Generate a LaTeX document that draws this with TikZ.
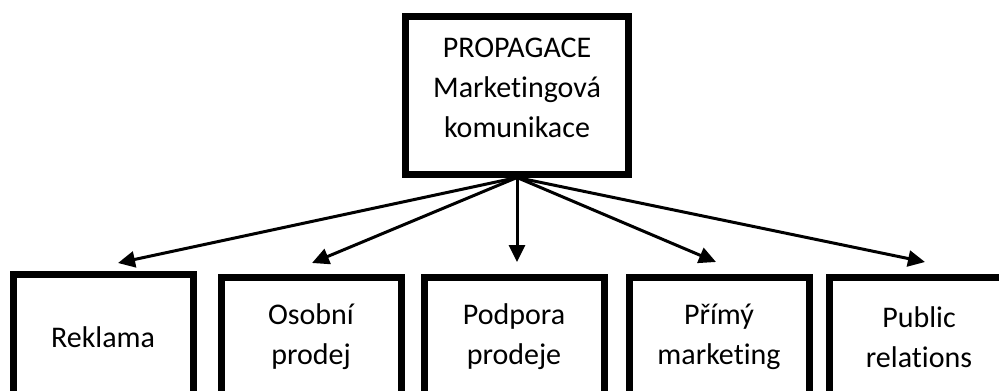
\documentclass[tikz,border=0pt]{standalone}
\usepackage{fontspec}
\setmainfont{Carlito}[Ligatures=NoCommon]
\usetikzlibrary{arrows.meta}
\begin{document}
\begin{tikzpicture}[x=1pt,y=-1pt,
  txt/.style={align=center, inner sep=0pt, font=\fontsize{30}{40}\selectfont},
  box/.style={txt, draw, line width=7pt, minimum width=180pt, minimum height=120pt},
  link/.style={line width=3pt, -{Triangle[length=17pt,width=16pt]}}]
\useasboundingbox (0,0) rectangle (999,391);
\clip (0,0) rectangle (999,391);
% top concept box and its caption
\node[box, minimum width=223pt, minimum height=158pt] (top) at (517,95) {};
\node[txt] (toptext) at (517,88) {PROPAGACE\\Marketingová\\komunikace};
% the five tools of the communication mix
\node[box, minimum height=126pt] (rek) at (103,337) {Reklama};
\node[box] (oso) at (311,337) {Osobní\\prodej};
\node[box] (pod) at (514,337) {Podpora\\prodeje};
\node[box] (pri) at (719,337) {Přímý\\marketing};
\node[box] (pub) at (919,337) {Public\\relations};
% arrow tips above the boxes
\coordinate (t1) at (118,263);
\coordinate (t2) at (312,263);
\coordinate (t3) at (517,262);
\coordinate (t4) at (716,262);
\coordinate (t5) at (925,262);
\foreach \t in {t1,t2,t3,t4,t5}
  \draw[link] (top.south) -- (\t);
\end{tikzpicture}
\end{document}
